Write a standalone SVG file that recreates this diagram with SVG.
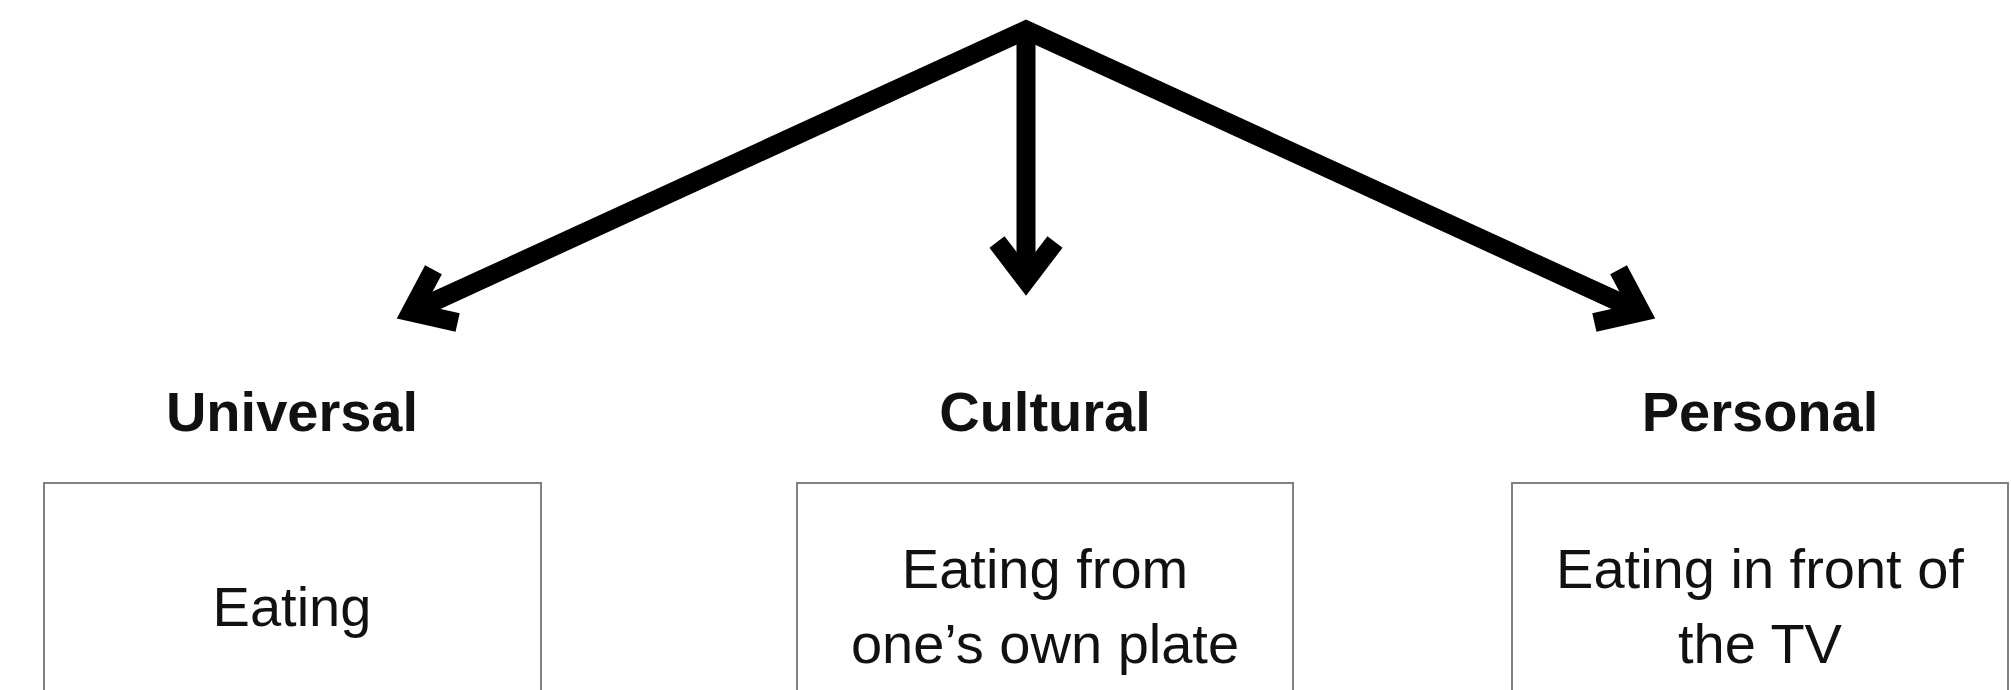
<svg xmlns="http://www.w3.org/2000/svg" width="2011" height="690" viewBox="0 0 2011 690">
<style>
.head{font-family:"Liberation Sans",Arial,sans-serif;font-weight:bold;font-size:56px;fill:#111;text-anchor:middle}
.body{font-family:"Liberation Sans",Arial,sans-serif;font-size:56px;fill:#111;text-anchor:middle}
.box{fill:#fff;stroke:#808080;stroke-width:2}
.arrow{fill:none;stroke:#000;stroke-width:19;stroke-linejoin:miter;stroke-miterlimit:10}
.head-mark{fill:none;stroke:#000;stroke-width:19;stroke-linejoin:miter;stroke-miterlimit:10}
</style>
<defs>
<marker id="chev" markerUnits="userSpaceOnUse" orient="auto" overflow="visible" refX="0" refY="0" markerWidth="1" markerHeight="1">
<path class="head-mark" d="M-38,-29 L0,0 L-38,29"/>
</marker>
<marker id="chevS" markerUnits="userSpaceOnUse" orient="auto-start-reverse" overflow="visible" refX="0" refY="0" markerWidth="1" markerHeight="1">
<path class="head-mark" d="M-38,-29 L0,0 L-38,29"/>
</marker>
</defs>
<rect width="2011" height="690" fill="#fff"/>
<g id="connectors">
<path class="arrow" d="M411,312 L1026,30 L1641,312" marker-start="url(#chevS)" marker-end="url(#chev)"/>
<path class="arrow" d="M1026,30 L1026,280" marker-end="url(#chev)"/>
</g>
<g id="universal">
<text class="head" x="292" y="431">Universal</text>
<rect class="box" x="44" y="483" width="497" height="220"/>
<text class="body" x="292" y="626">Eating</text>
</g>
<g id="cultural">
<text class="head" x="1045" y="431">Cultural</text>
<rect class="box" x="797" y="483" width="496" height="220"/>
<text class="body" x="1045" y="588">Eating from</text>
<text class="body" x="1045" y="663">one’s own plate</text>
</g>
<g id="personal">
<text class="head" x="1760" y="431">Personal</text>
<rect class="box" x="1512" y="483" width="496" height="220"/>
<text class="body" x="1760" y="588">Eating in front of</text>
<text class="body" x="1760" y="663">the TV</text>
</g>
</svg>
